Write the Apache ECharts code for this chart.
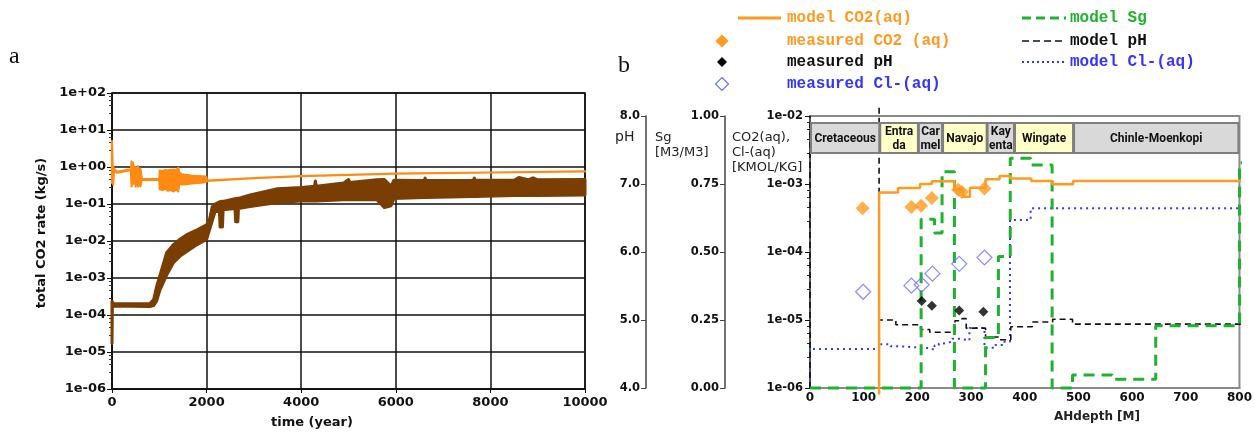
<!DOCTYPE html>
<html><head><meta charset="utf-8">
<script src="https://cdn.jsdelivr.net/npm/echarts@6/dist/echarts.min.js"></script>
<style>html,body{margin:0;padding:0;background:#fff}#c{width:1255px;height:432px}</style>
</head><body><div id="c"></div>
<script>
// ---------- panel a: total CO2 rate ----------
const brownT  = [0,8,30,800,880,945,1015,1155,1300,1450, 1580,1800,2000,2050,2120,2180,2270,2285,2335,2350, 2600,2615,2660,2675,2920,3500,4000,4280,4300,4320, 4900,5000,5030,5600,5760,5900,5960,6600,6620,6640, 7640,7660,7680,8500,8600,8800,8900,9000,10000];
const brownHi = [2.3e-4,2.3e-4,2.0e-4,2.05e-4,2.6e-4,6e-4,1.2e-3,4.8e-3,8e-3,1.15e-2, 1.48e-2,2.0e-2,2.75e-2,3.3e-2,8.5e-2,0.1,0.115,0.115,0.118,0.118, 0.14,0.14,0.142,0.142,0.175,0.26,0.28,0.3,0.42,0.3, 0.37,0.46,0.38,0.45,0.46,0.3,0.44,0.43,0.5,0.43, 0.44,0.5,0.44,0.44,0.52,0.45,0.51,0.45,0.46];
const brownLo = [1.7e-5,1.7e-4,1.75e-4,1.7e-4,1.8e-4,2.4e-4,4.8e-4,1.2e-3,2.6e-3,4e-3, 5.2e-3,8e-3,1.1e-2,1.8e-2,3.5e-2,0.062,0.069,0.024,0.024,0.07, 0.075,0.033,0.033,0.076,0.085,0.11,0.12,0.12,0.12,0.12, 0.13,0.13,0.13,0.13,0.08,0.09,0.14,0.15,0.15,0.15, 0.16,0.16,0.16,0.17,0.17,0.17,0.17,0.17,0.175];

const orangeT  = [0,12,25,40,100,200,300,400, 415,430,445,460,480,500,525,550,575,600,630, 1000,1010,1060,1120,1180,1240,1300,1360,1400,1420, 1500,1600,1700,1800,1900,1990,2010, 3000,4000,6000,8000,10000];
const orangeHi = [5.0,1.1,1.0,0.9,0.74,0.78,0.82,0.86, 1.4,0.9,1.3,0.8,0.75,1.0,0.7,1.05,0.6,0.9,0.48, 0.47,0.8,0.78,0.82,0.8,0.84,0.85,0.82,0.95,0.7, 0.62,0.6,0.58,0.57,0.56,0.55,0.43, 0.5,0.57,0.66,0.71,0.76];
const orangeLo = [0.37,0.95,0.33,0.8,0.7,0.74,0.78,0.82, 0.3,0.55,0.35,0.6,0.65,0.3,0.55,0.3,0.45,0.3,0.45, 0.45,0.25,0.24,0.26,0.23,0.24,0.22,0.25,0.22,0.35, 0.34,0.35,0.36,0.37,0.38,0.4,0.42, 0.5,0.57,0.66,0.71,0.76];

// ---------- panel b: depth profiles ----------
const formationNames = ['Cretaceous','Entra\nda','Car\nmel','Navajo','Kay\nenta','Wingate','Chinle-Moenkopi'];
const formationTop   = [0,129,201,246,329,380,490];
const formationBase  = [129,201,246,329,380,490,798];
const formationKind  = ['g','y','g','y','g','y','g'];

const co2Edges = [128.7,164,205,227,269,285,298,327,353,373,412,451,490,818];
const co2Vals  = [7.5e-4,8.7e-4,1.0e-3,1.1e-3,8.2e-4,6.5e-4,8.8e-4,1.17e-3,1.31e-3,1.2e-3,1.11e-3,9.9e-4,1.11e-3];

const sgEdges = [0,207,232,246,269,327,351,373,411,451,489,563,644,800,815];
const sgVals  = [0,0.62,0.57,0.795,0,0.186,0.483,0.845,0.82,0,0.048,0.032,0.229,0.828];

const phEdges = [128.7,160,206,223,270,283,291,327,353,374,414,452,489,815];
const phVals  = [5.0,4.93,4.86,4.82,4.99,5.02,4.88,4.75,4.71,4.90,4.97,5.01,4.94];

const clEdges = [0,128.7,150,170,225,232,240,248,265,280,297,325,345,360,372.5,411,817];
const clVals  = [3.75e-6,4.4e-6,4.1e-6,3.85e-6,3.6e-6,4.2e-6,4.5e-6,4.8e-6,5.3e-6,5.0e-6,7.6e-6,3.9e-6,4.3e-6,4.8e-6,2.95e-4,4.4e-4];

const co2MeasDepth = [98,189,207,227,276,283,325];
const co2Meas      = [4.4e-4,4.6e-4,4.8e-4,6.2e-4,8.2e-4,7.6e-4,8.6e-4];
const phMeasDepth  = [208,227,278,323];
const phMeas       = [5.28,5.21,5.14,5.12];
const clMeasDepth  = [99,189,208,228,278,325];
const clMeas       = [2.6e-5,3.2e-5,3.3e-5,4.8e-5,6.7e-5,8.3e-5];

// ---------- helpers ----------
function expFmt(v){ const e = Math.round(Math.log10(v)); return '1e' + (e < 0 ? '-' : '+') + String(Math.abs(e)).padStart(2,'0'); }
function steps(edges, vals){ const p = []; for (let i = 0; i < vals.length; i++){ p.push([edges[i], vals[i]]); p.push([edges[i+1], vals[i]]); } return p; }
function zip(a, b){ return a.map((v, i) => [v, b[i]]); }
function band(tArr, hi, lo, color, lw){
  return function(params, api){
    const pts = [];
    for (let i = 0; i < tArr.length; i++) pts.push(api.coord([tArr[i], hi[i]]));
    for (let i = tArr.length - 1; i >= 0; i--) pts.push(api.coord([tArr[i], lo[i]]));
    return {type:'polygon', shape:{points:pts}, style:{fill:color, stroke:color, lineWidth:lw, lineJoin:'round'}};
  };
}
const LBL = {fontFamily:'DejaVu Sans', fontWeight:'bold', color:'#111'};
const ORANGE = '#ff9a1f', GREEN = '#1db32c', BLUE = '#3434ff', BLUEM = '#6e6eff';
const MONO = 'bold 16px "Liberation Mono", "DejaVu Sans Mono", monospace';

function diamond(cx, cy, r){ return [[cx, cy - r], [cx + r, cy], [cx, cy + r], [cx - r, cy]]; }

const chart = echarts.init(document.getElementById('c'), null, {renderer:'canvas'});
chart.setOption({
  animation:false,
  backgroundColor:'#fff',
  grid:[
    {left:112, top:93, width:473, height:296, show:true, borderColor:'#111', borderWidth:1.5},
    {left:810, top:116, width:431, height:272, show:true, borderColor:'#8a8a8a', borderWidth:2}
  ],
  xAxis:[
    {type:'value', gridIndex:0, min:0, max:10000, interval:2000,
     axisLine:{show:true, onZero:false, lineStyle:{color:'#111', width:1.5}},
     axisTick:{show:true, length:4, lineStyle:{color:'#111'}},
     axisLabel:Object.assign({}, LBL, {fontSize:13, margin:7, formatter:v => String(v)}),
     splitLine:{show:true, lineStyle:{color:'#111', width:1.5}}},
    {type:'value', gridIndex:1, min:0, max:800, interval:100,
     axisLine:{show:true, onZero:false, lineStyle:{color:'#8a8a8a', width:2}},
     axisTick:{show:false},
     axisLabel:Object.assign({}, LBL, {fontSize:12, margin:4, formatter:v => String(v)}),
     splitLine:{show:false}}
  ],
  yAxis:[
    {type:'log', gridIndex:0, logBase:10, min:1e-6, max:1e2, splitNumber:8,
     axisLine:{show:true, lineStyle:{color:'#111', width:1.5}},
     axisTick:{show:true, length:5, lineStyle:{color:'#111'}},
     minorTick:{show:true, splitNumber:5, length:3, lineStyle:{color:'#333'}},
     axisLabel:Object.assign({}, LBL, {fontSize:13, margin:6, formatter:expFmt}),
     splitLine:{show:true, lineStyle:{color:'#111', width:1.5}}},
    {type:'log', gridIndex:1, logBase:10, min:1e-6, max:1e-2, splitNumber:4, position:'left', offset:0,
     axisLine:{show:true, lineStyle:{color:'#444', width:1.5}},
     axisTick:{show:true, length:5, lineStyle:{color:'#111'}},
     minorTick:{show:true, splitNumber:5, length:3, lineStyle:{color:'#222'}},
     axisLabel:Object.assign({}, LBL, {fontSize:11.5, margin:7, formatter:expFmt}),
     splitLine:{show:false}},
    {type:'value', gridIndex:1, min:0, max:1, interval:0.25, position:'left', offset:85,
     axisLine:{show:true, lineStyle:{color:'#444', width:1.5}},
     axisTick:{show:true, length:5, lineStyle:{color:'#444'}},
     axisLabel:Object.assign({}, LBL, {fontSize:11.5, margin:6, formatter:v => v.toFixed(2)}),
     splitLine:{show:false}},
    {type:'value', gridIndex:1, min:4, max:8, interval:1, position:'left', offset:164,
     axisLine:{show:true, lineStyle:{color:'#444', width:1.5}},
     axisTick:{show:true, length:5, lineStyle:{color:'#444'}},
     axisLabel:Object.assign({}, LBL, {fontSize:11.5, margin:6, formatter:v => v.toFixed(1)}),
     splitLine:{show:false}}
  ],
  series:[
    {name:'total CO2 rate (brown)', type:'custom', xAxisIndex:0, yAxisIndex:0, data:[[0,1]],
     renderItem:band(brownT, brownHi, brownLo, '#7a3d02', 3), z:2},
    {name:'total CO2 rate (orange)', type:'custom', xAxisIndex:0, yAxisIndex:0, data:[[0,1]],
     renderItem:band(orangeT, orangeHi, orangeLo, '#ff8a12', 2.2), z:3},

    {name:'model Cl-(aq)', type:'line', xAxisIndex:1, yAxisIndex:1, clip:false, showSymbol:false,
     data:[[0,1e-6]].concat(steps(clEdges, clVals)),
     lineStyle:{color:BLUE, width:2, type:[2,4]}, z:3},
    {name:'model pH', type:'line', xAxisIndex:1, yAxisIndex:3, clip:false, showSymbol:false, connectNulls:false,
     data:[[0,4.0],[0,8.0],[128.7,'-'],[128.7,8.12]].concat(steps(phEdges, phVals)),
     lineStyle:{color:'#111', width:1.6, type:[6,4]}, z:4},
    {name:'model Sg', type:'line', xAxisIndex:1, yAxisIndex:2, clip:false, showSymbol:false,
     data:steps(sgEdges, sgVals),
     lineStyle:{color:GREEN, width:3, type:[11,7]}, z:4},
    {name:'model CO2(aq)', type:'line', xAxisIndex:1, yAxisIndex:1, clip:false, showSymbol:false,
     data:[[128.7,8e-7]].concat(steps(co2Edges, co2Vals)),
     lineStyle:{color:ORANGE, width:2.5}, z:5},
    {name:'measured CO2 (aq)', type:'scatter', xAxisIndex:1, yAxisIndex:1, symbol:'diamond', symbolSize:14,
     data:zip(co2MeasDepth, co2Meas), itemStyle:{color:ORANGE}, z:6},
    {name:'measured pH', type:'scatter', xAxisIndex:1, yAxisIndex:3, symbol:'diamond', symbolSize:10,
     data:zip(phMeasDepth, phMeas), itemStyle:{color:'#000'}, z:6},
    {name:'measured Cl-(aq)', type:'scatter', xAxisIndex:1, yAxisIndex:1, symbol:'diamond', symbolSize:15,
     data:zip(clMeasDepth, clMeas), itemStyle:{color:'rgba(255,255,255,0)', borderColor:BLUEM, borderWidth:1.2}, z:6},
    {name:'formations', type:'custom', xAxisIndex:1, yAxisIndex:1, clip:false, z:8,
     data:formationTop.map((s, i) => [s, formationBase[i], i, 5e-3]),
     encode:{x:[0,1], y:3},
     renderItem:function(params, api){
       const i = api.value(2);
       const x0 = api.coord([api.value(0), 1e-2])[0];
       const x1 = api.coord([api.value(1), 1e-2])[0];
       const top = params.coordSys.y + 7, h = 30;
       return {type:'group', children:[
         {type:'rect', shape:{x:x0 + 1, y:top, width:x1 - x0 - 1, height:h},
          style:{fill:formationKind[i] === 'y' ? '#ffffc8' : '#d9d9d9', stroke:'#7f7f7f', lineWidth:2}},
         {type:'text', style:{text:formationNames[i], x:(x0 + x1) / 2 + 0.5, y:top + h / 2 + 1, align:'center', verticalAlign:'middle',
          font:'bold 12px Roboto, "Noto Sans", sans-serif', lineHeight:14, fill:'#111'}}
       ]};
     }}
  ],
  graphic:[
    {type:'text', x:9, y:45, style:{text:'a', font:'24px "Liberation Serif", serif', fill:'#111'}},
    {type:'text', x:618, y:54, style:{text:'b', font:'24px "Liberation Serif", serif', fill:'#111'}},
    {type:'text', x:312, y:423, style:{text:'time (year)', font:'bold 13px "DejaVu Sans"', fill:'#111', align:'center', verticalAlign:'middle'}},
    {type:'text', x:42, y:233, rotation:Math.PI / 2, style:{text:'total CO2 rate (kg/s)', font:'bold 13px "DejaVu Sans"', fill:'#111', align:'center', verticalAlign:'middle'}},
    {type:'text', x:1097, y:417, style:{text:'AHdepth [M]', font:'bold 12px "DejaVu Sans"', fill:'#222', align:'center', verticalAlign:'middle'}},
    {type:'text', x:615, y:130, style:{text:'pH', font:'14px "DejaVu Sans"', fill:'#222'}},
    {type:'text', x:655, y:130, style:{text:'Sg\n[M3/M3]', font:'13px "DejaVu Sans"', fill:'#222', lineHeight:15}},
    {type:'text', x:732, y:130, style:{text:'CO2(aq),\nCl-(aq)\n[KMOL/KG]', font:'13px "DejaVu Sans"', fill:'#222', lineHeight:15}},
    // legend
    {type:'line', shape:{x1:738, y1:18, x2:781, y2:18}, style:{stroke:ORANGE, lineWidth:3}},
    {type:'text', x:787, y:18, style:{text:'model CO2(aq)', font:MONO, fill:ORANGE, verticalAlign:'middle'}},
    {type:'polygon', shape:{points:diamond(722, 41, 6.5)}, style:{fill:ORANGE}},
    {type:'text', x:787, y:41, style:{text:'measured CO2 (aq)', font:MONO, fill:ORANGE, verticalAlign:'middle'}},
    {type:'polygon', shape:{points:diamond(722, 62, 5)}, style:{fill:'#000'}},
    {type:'text', x:787, y:62, style:{text:'measured pH', font:MONO, fill:'#111', verticalAlign:'middle'}},
    {type:'polygon', shape:{points:diamond(722, 84, 6.5)}, style:{fill:'none', stroke:BLUEM, lineWidth:1.2}},
    {type:'text', x:787, y:84, style:{text:'measured Cl-(aq)', font:MONO, fill:BLUE, verticalAlign:'middle'}},
    {type:'line', shape:{x1:1022, y1:18, x2:1066, y2:18}, style:{stroke:GREEN, lineWidth:3, lineDash:[9,5]}},
    {type:'text', x:1070, y:18, style:{text:'model Sg', font:MONO, fill:GREEN, verticalAlign:'middle'}},
    {type:'line', shape:{x1:1022, y1:41, x2:1066, y2:41}, style:{stroke:'#111', lineWidth:1.6, lineDash:[7,4]}},
    {type:'text', x:1070, y:41, style:{text:'model pH', font:MONO, fill:'#111', verticalAlign:'middle'}},
    {type:'line', shape:{x1:1022, y1:62, x2:1066, y2:62}, style:{stroke:BLUE, lineWidth:2, lineDash:[2,3]}},
    {type:'text', x:1070, y:62, style:{text:'model Cl-(aq)', font:MONO, fill:BLUE, verticalAlign:'middle'}}
  ]
});
</script></body></html>
